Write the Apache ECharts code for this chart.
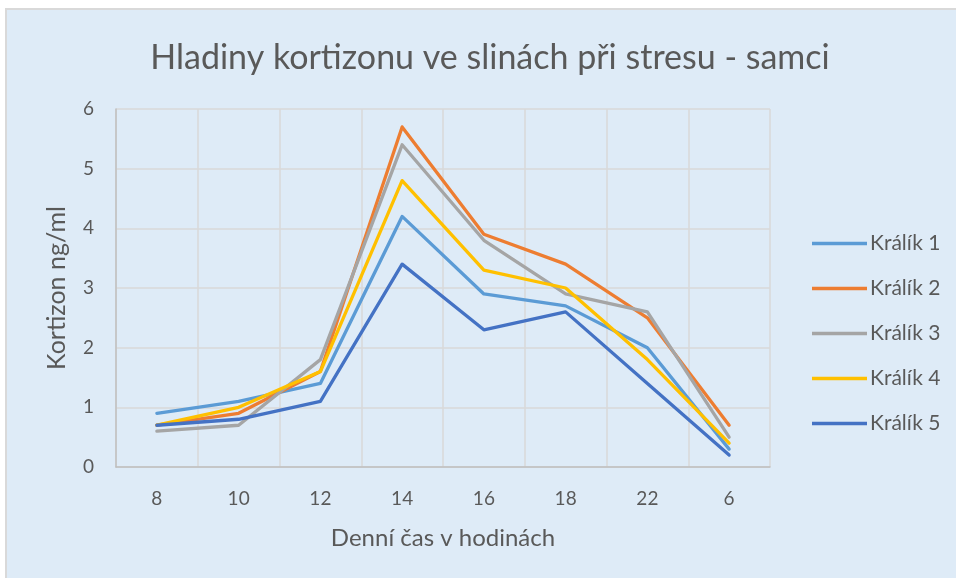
<!DOCTYPE html>
<html>
<head>
<meta charset="utf-8">
<script src="https://cdn.jsdelivr.net/npm/echarts@6/dist/echarts.min.js"></script>
<style>
html,body{margin:0;padding:0;background:#ffffff;width:956px;height:578px;overflow:hidden;}
#bg{position:absolute;left:5px;top:8px;width:951px;height:570px;background:#DEEBF7;border-left:2px solid #D9D9D9;border-top:2px solid #D9D9D9;box-sizing:border-box;}
#chart{position:absolute;left:0;top:0;width:956px;height:578px;}
</style>
</head>
<body>
<div id="bg"></div>
<div id="chart"></div>
<script>
const categories = ['8', '10', '12', '14', '16', '18', '22', '6'];
const seriesNames = ['Králík 1', 'Králík 2', 'Králík 3', 'Králík 4', 'Králík 5'];
const kralik1 = [0.9, 1.1, 1.4, 4.2, 2.9, 2.7, 2.0, 0.3];
const kralik2 = [0.7, 0.9, 1.6, 5.7, 3.9, 3.4, 2.5, 0.7];
const kralik3 = [0.6, 0.7, 1.8, 5.4, 3.8, 2.9, 2.6, 0.5];
const kralik4 = [0.7, 1.0, 1.6, 4.8, 3.3, 3.0, 1.8, 0.4];
const kralik5 = [0.7, 0.8, 1.1, 3.4, 2.3, 2.6, 1.4, 0.2];
const colors = ['#5B9BD5', '#ED7D31', '#A5A5A5', '#FFC000', '#4472C4'];
const titleText = 'Hladiny kortizonu ve slinách při stresu - samci';
const xName = 'Denní čas v hodinách';
const yName = 'Kortizon ng/ml';

const allData = [kralik1, kralik2, kralik3, kralik4, kralik5];
const font = 'Lato, "Noto Sans", sans-serif';
const chart = echarts.init(document.getElementById('chart'), null, {renderer: 'canvas'});
chart.setOption({
  backgroundColor: 'transparent',
  animation: false,
  color: colors,
  title: {
    text: titleText,
    left: 485,
    textAlign: 'center',
    top: 36,
    textStyle: {fontFamily: font, fontSize: 34, fontWeight: 'normal', color: '#595959'}
  },
  legend: {
    orient: 'vertical',
    left: 807,
    top: 228,
    itemWidth: 55,
    itemHeight: 14,
    itemGap: 24,
    icon: 'path://M0,0L55,0L55,3.5L0,3.5Z',
    data: seriesNames,
    textStyle: {fontFamily: font, fontSize: 21, color: '#595959', padding: [0,0,0,-2]}
  },
  grid: {left: 116, right: 186, top: 109, bottom: 111, containLabel: false},
  xAxis: {
    type: 'category',
    data: categories,
    boundaryGap: true,
    name: xName,
    nameLocation: 'middle',
    nameGap: 59,
    nameTextStyle: {fontFamily: font, fontSize: 24, color: '#595959'},
    axisLine: {show: true, lineStyle: {color: '#BFBFBF', width: 1.5}},
    axisTick: {show: false},
    axisLabel: {margin: 22, fontFamily: font, fontSize: 19, color: '#595959'},
    splitLine: {show: true, lineStyle: {color: '#D9D9D9', width: 1.5}}
  },
  yAxis: {
    type: 'value',
    min: 0,
    max: 6,
    interval: 1,
    name: yName,
    nameLocation: 'middle',
    nameGap: 47,
    nameTextStyle: {fontFamily: font, fontSize: 25, color: '#595959'},
    axisLine: {show: true, lineStyle: {color: '#BFBFBF', width: 1.5}},
    axisTick: {show: false},
    axisLabel: {margin: 22, fontFamily: font, fontSize: 19, color: '#595959'},
    splitLine: {show: true, lineStyle: {color: '#D9D9D9', width: 1.5}}
  },
  series: allData.map((d, i) => ({
    name: seriesNames[i],
    type: 'line',
    data: d,
    symbol: 'none',
    lineStyle: {width: 3.3, color: colors[i], cap: 'round', join: 'round'},
    itemStyle: {color: colors[i]}
  }))
});
</script>
</body>
</html>
